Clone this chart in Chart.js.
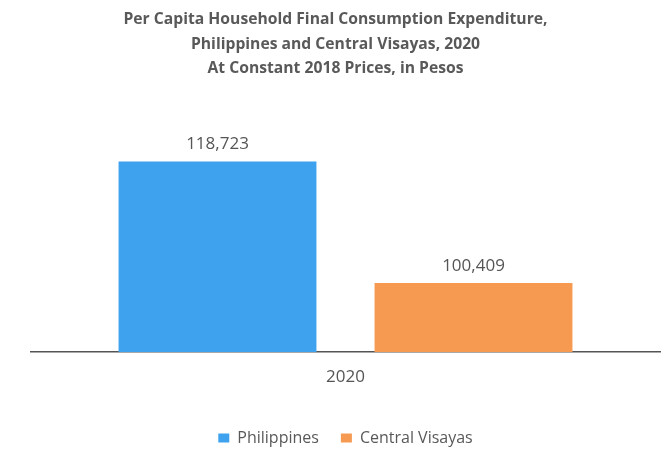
<!DOCTYPE html>
<html>
<head>
<meta charset="utf-8">
<script src="https://cdn.jsdelivr.net/npm/chart.js@4"></script>
<style>
html,body{margin:0;padding:0;background:#fff;}
#wrap{width:670px;height:454px;}
</style>
</head>
<body>
<div id="wrap"><canvas id="c" width="670" height="454"></canvas></div>
<script>
const categories = ["2020"];
const seriesNames = ["Philippines", "Central Visayas"];
const philippines = [118723];
const centralVisayas = [100409];
const titleLines = ["Per Capita Household Final Consumption Expenditure,", "Philippines and Central Visayas, 2020", "At Constant 2018 Prices, in Pesos"];

const valueLabels = {
  id: 'valueLabels',
  afterDatasetsDraw(chart) {
    const ctx = chart.ctx;
    ctx.save();
    ctx.font = '17px "Open Sans", sans-serif';
    ctx.fillStyle = '#555';
    ctx.textAlign = 'center';
    ctx.textBaseline = 'middle';
    chart.data.datasets.forEach((ds, i) => {
      chart.getDatasetMeta(i).data.forEach((bar, j) => {
        ctx.fillText(ds.data[j].toLocaleString('en-US'), bar.x, bar.y - 17);
      });
    });
    ctx.restore();
  }
};

const titleShift = {
  id: 'titleShift',
  afterLayout(chart) {
    const t = chart.titleBlock;
    if (t) { t.left -= 10; t.right -= 10; }
  }
};

new Chart(document.getElementById('c'), {
  type: 'bar',
  data: {
    labels: categories,
    datasets: [
      { label: seriesNames[0], data: philippines, backgroundColor: '#3fa2ef', categoryPercentage: 0.814, barPercentage: 0.773 },
      { label: seriesNames[1], data: centralVisayas, backgroundColor: '#f69a52', categoryPercentage: 0.814, barPercentage: 0.773 }
    ]
  },
  options: {
    responsive: false,
    animation: false,
    layout: { padding: { left: 31, right: 10, top: 0, bottom: -2 } },
    plugins: {
      title: {
        display: true,
        text: titleLines,
        color: '#595959',
        font: { family: '"Open Sans", sans-serif', size: 15.7, weight: 'bold', lineHeight: 1.53 },
        padding: { top: 8, bottom: 73 }
      },
      legend: {
        position: 'bottom',
        labels: {
          boxWidth: 11, boxHeight: 9, color: '#595959',
          font: { family: '"Open Sans", sans-serif', size: 16 },
          padding: 22
        }
      },
      tooltip: { enabled: false }
    },
    scales: {
      x: {
        grid: { display: false, drawTicks: false },
        border: { display: true, color: '#555', width: 1.5 },
        ticks: { color: '#555', font: { family: '"Open Sans", sans-serif', size: 17 }, padding: 15 },
        afterFit(axis) { axis.height = 56; }
      },
      y: {
        display: false,
        min: 90000,
        max: 120000
      }
    }
  },
  plugins: [valueLabels, titleShift]
});
</script>
</body>
</html>
